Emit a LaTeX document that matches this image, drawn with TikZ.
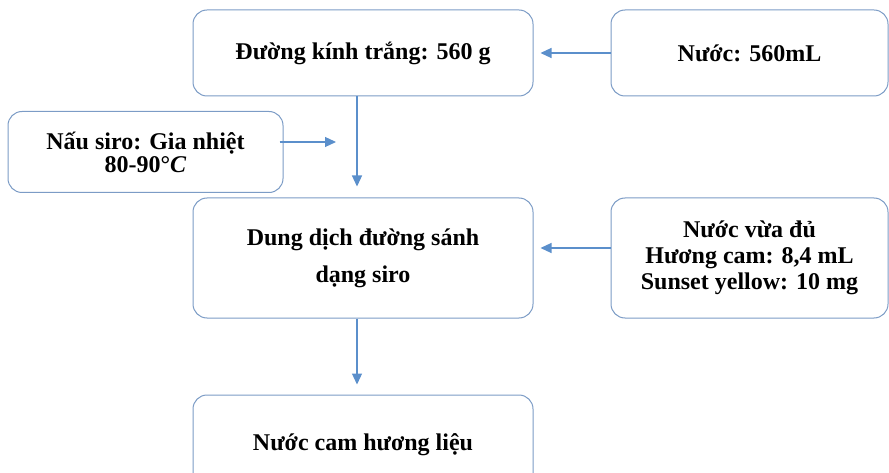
\documentclass[tikz,border=0pt]{standalone}
\usepackage{fontspec}
\setmainfont{Liberation Serif}
\usetikzlibrary{arrows.meta,positioning}
\definecolor{boxblue}{HTML}{7C9CC6}
\definecolor{arrblue}{HTML}{5B8FCB}

\begin{document}
\begin{tikzpicture}[
    x=1pt, y=-1pt,
    step box/.style={rectangle, rounded corners=14pt, draw=boxblue, fill=white,
                     line width=1pt, align=center, inner sep=0pt,
                     font=\bfseries\fontsize{24}{26}\selectfont},
    arr/.style={-{Triangle[length=11pt,width=10pt]}, arrblue, line width=1.2pt}
  ]

  % ---- Canvas ----
  \useasboundingbox (0,0) rectangle (889,473);
  \clip (0,0) rectangle (889,473);

  % ---- Top row ----
  \node[step box, minimum width=340pt, minimum height=86pt]
    (sugar) at (363,53) {Đường kính trắng: 560 g};
  \node[step box, minimum width=277pt, minimum height=86pt]
    (water) at (749.5,53) {Nước: 560mL};

  % ---- Cooking step ----
  \node[step box, minimum width=275pt, minimum height=81pt,
        font=\bfseries\fontsize{24}{23}\selectfont]
    (cook) at (145.5,152) {Nấu siro: Gia nhiệt\\80-90°\textit{C}};
  \coordinate (join) at (336,142);

  % ---- Syrup and additives ----
  \node[step box, minimum width=340pt, minimum height=120pt,
        font=\bfseries\fontsize{24}{37}\selectfont]
    (syrup) at (363,258) {Dung dịch đường sánh\\dạng siro};
  \node[step box, minimum width=277pt, minimum height=120pt]
    (extra) at (749.5,258) {Nước vừa đủ\\Hương cam: 8,4 mL\\Sunset yellow: 10 mg};

  % ---- Product ----
  \node[step box, minimum width=340pt, minimum height=100pt]
    (juice) at (363,445) {Nước cam hương liệu};

  % ---- Arrows ----
  \draw[arr, shorten >=7pt] (water.west) -- (sugar.east);
  \draw[arr, shorten >=11pt] ([xshift=-6pt]sugar.south) -- ([xshift=-6pt]syrup.north);
  \draw[arr, shorten <=-4pt] ([yshift=10pt]cook.east) -- (join);
  \draw[arr, shorten >=7pt] ([yshift=10pt]extra.west) -- ([yshift=10pt]syrup.east);
  \draw[arr, shorten >=10pt] ([xshift=-6pt]syrup.south) -- ([xshift=-6pt]juice.north);

\end{tikzpicture}
\end{document}
